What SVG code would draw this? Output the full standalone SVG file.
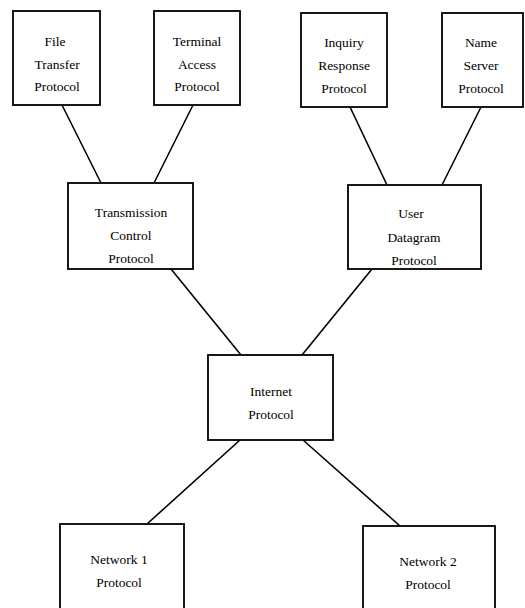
<svg xmlns="http://www.w3.org/2000/svg" width="525" height="608" viewBox="0 0 525 608">
<style>
.box{fill:#fff;stroke:#000;stroke-width:1.8}
.ln{stroke:#000;stroke-width:1.6;fill:none}
text{font-family:"Liberation Serif","Times New Roman",serif;font-size:13.5px;fill:#000;text-anchor:middle}
</style>
<rect width="525" height="608" fill="#fff"/>
<g id="connectors">
<line class="ln" x1="62" y1="105" x2="101" y2="183"/>
<line class="ln" x1="193" y1="105" x2="154" y2="183"/>
<line class="ln" x1="350" y1="107" x2="387" y2="185"/>
<line class="ln" x1="481" y1="107" x2="442" y2="185"/>
<line class="ln" x1="171" y1="269" x2="241" y2="355"/>
<line class="ln" x1="372" y1="269" x2="302" y2="355"/>
<line class="ln" x1="240" y1="440" x2="147" y2="524"/>
<line class="ln" x1="303" y1="440" x2="400" y2="526"/>
</g>
<g id="ftp">
<rect class="box" x="13" y="11" width="87" height="94"/>
<text x="55" y="46">File</text>
<text x="57" y="69">Transfer</text>
<text x="57" y="91">Protocol</text>
</g>
<g id="tap">
<rect class="box" x="154" y="11" width="86" height="94"/>
<text x="197" y="46">Terminal</text>
<text x="197" y="69">Access</text>
<text x="197" y="91">Protocol</text>
</g>
<g id="irp">
<rect class="box" x="301" y="13" width="86" height="94"/>
<text x="344" y="47">Inquiry</text>
<text x="344" y="70">Response</text>
<text x="344" y="93">Protocol</text>
</g>
<g id="nsp">
<rect class="box" x="442" y="13" width="81" height="94"/>
<text x="481" y="47">Name</text>
<text x="481" y="70">Server</text>
<text x="481" y="93">Protocol</text>
</g>
<g id="tcp">
<rect class="box" x="68" y="183" width="125" height="86"/>
<text x="131" y="217">Transmission</text>
<text x="131" y="240">Control</text>
<text x="131" y="263">Protocol</text>
</g>
<g id="udp">
<rect class="box" x="348" y="185" width="133" height="84"/>
<text x="411" y="218">User</text>
<text x="414" y="242">Datagram</text>
<text x="414" y="265">Protocol</text>
</g>
<g id="ip">
<rect class="box" x="208" y="355" width="125" height="85"/>
<text x="271" y="396">Internet</text>
<text x="271" y="419">Protocol</text>
</g>
<g id="net1">
<rect class="box" x="60" y="524" width="124" height="90"/>
<text x="119" y="564">Network 1</text>
<text x="119" y="587">Protocol</text>
</g>
<g id="net2">
<rect class="box" x="363" y="526" width="132" height="90"/>
<text x="428" y="566">Network 2</text>
<text x="428" y="589">Protocol</text>
</g>
</svg>
